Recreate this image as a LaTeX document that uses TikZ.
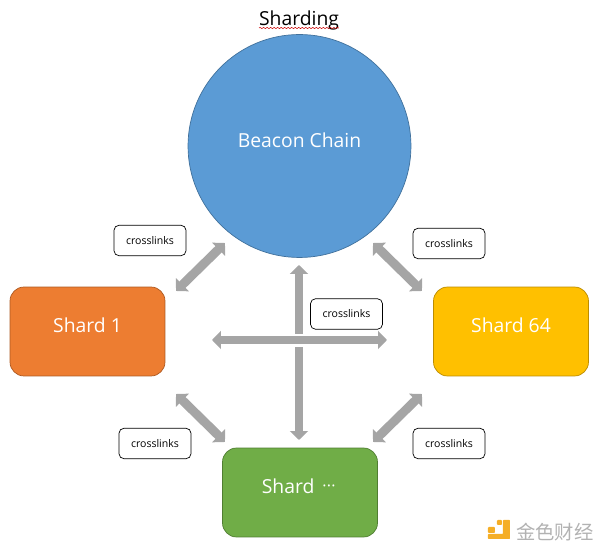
\documentclass[tikz,border=0pt]{standalone}
\usepackage{fontspec}
\setmainfont{Open Sans}
\newfontfamily\cjk{Noto Sans CJK SC}
\usetikzlibrary{arrows.meta, decorations.pathmorphing}
\definecolor{beaconblue}{HTML}{5B9BD5}
\definecolor{beaconline}{HTML}{41719C}
\definecolor{shardorange}{HTML}{ED7D31}
\definecolor{orangeline}{HTML}{AE5A21}
\definecolor{shardyellow}{HTML}{FFC000}
\definecolor{yellowline}{HTML}{BC8C00}
\definecolor{shardgreen}{HTML}{70AD47}
\definecolor{greenline}{HTML}{507E32}
\definecolor{linkgray}{HTML}{A5A5A5}
\definecolor{logoyellow}{HTML}{F5AE26}
\newcommand{\lowtext}[1]{\smash{\raisebox{-0.8pt}{#1}}}
\tikzset{
  shardbox/.style={draw, rounded corners=0.28cm, minimum width=3.1cm, minimum height=1.78cm, inner sep=0pt, text=white, font=\fontsize{11}{13}\selectfont},
  linkbox/.style={draw=black, rounded corners=0.1cm, fill=white, minimum width=1.44cm, minimum height=0.61cm, inner sep=0pt, font=\fontsize{6}{7}\selectfont},
  linkarrow/.style={{Triangle[length=5.1pt,width=10.2pt]}-{Triangle[length=5.1pt,width=10.2pt]}, line width=5.1pt, linkgray},
  onearrow/.style={-{Triangle[length=5.1pt,width=10.2pt]}, line width=5.1pt, linkgray},
}
\begin{document}
\begin{tikzpicture}[x=0.02cm,y=-0.02cm]
\useasboundingbox (0,0) rectangle (600,547);
% Title
\node[font=\fontsize{11}{13}\selectfont] (title) at (299,20) {Sharding};
\coordinate (wavea) at (259,28);
\coordinate (waveb) at (339,28);
\draw[red!80!black, line width=0.3pt, decorate, decoration={snake,amplitude=0.35pt,segment length=2pt}] (wavea) -- (waveb);
% Chain and shards
\node[circle, draw=beaconline, fill=beaconblue, minimum size=4.46cm, inner sep=0pt, text=white, font=\fontsize{11}{13}\selectfont] (beacon) at (299.5,146) {\lowtext{Beacon Chain}};
\node[shardbox, draw=orangeline, fill=shardorange] (shardone) at (87.5,331.5) {\lowtext{Shard 1}};
\node[shardbox, draw=yellowline, fill=shardyellow] (shardsixty) at (511,331.5) {\lowtext{Shard 64}};
\node[shardbox, draw=greenline, fill=shardgreen] (shardmore) at (300,492.5) {\hspace{-1.5pt}\lowtext{Shard}\hspace{4.5pt}{\fontsize{9}{9}\selectfont\smash{\raisebox{0.8pt}{·\kern0.2pt·\kern0.2pt·}}}};
% Arrow ends
\coordinate (ula) at (176,291);
\coordinate (ulb) at (225,243);
\coordinate (ura) at (373,243);
\coordinate (urb) at (422,291);
\coordinate (lla) at (176,394);
\coordinate (llb) at (225,442);
\coordinate (lra) at (373,442);
\coordinate (lrb) at (422,394);
\coordinate (hleft) at (212,340);
\coordinate (hright) at (387,340);
\coordinate (vtop) at (299,265);
\coordinate (vupper) at (299,334);
\coordinate (vlower) at (299,347);
\coordinate (vbottom) at (299,440);
% Links
\draw[linkarrow] (ula) -- (ulb);
\draw[linkarrow] (ura) -- (urb);
\draw[linkarrow] (lla) -- (llb);
\draw[linkarrow] (lra) -- (lrb);
\draw[linkarrow] (hleft) -- (hright);
\draw[onearrow] (vupper) -- (vtop);
\draw[onearrow] (vlower) -- (vbottom);
% Labels
\node[linkbox] (linkul) at (150,240.5) {crosslinks};
\node[linkbox] (linkur) at (449,243.5) {crosslinks};
\node[linkbox] (linkmid) at (346.5,314) {crosslinks};
\node[linkbox] (linkll) at (155,443.5) {crosslinks};
\node[linkbox] (linklr) at (449,443.5) {crosslinks};
% Watermark
\fill[logoyellow, rounded corners=0.4pt] (503,520) -- (510,520) -- (510,539) -- (488,539) -- (488,534) -- (503,534) -- cycle;
\fill[logoyellow, rounded corners=0.5pt] (497,520) rectangle (502,525);
\fill[logoyellow, rounded corners=0.5pt] (488,527) rectangle (495,533);
\node[text=black!30, font=\cjk\fontsize{11}{13}\selectfont, inner sep=0pt] (mark) at (555,532) {金色财经};
\end{tikzpicture}
\end{document}
